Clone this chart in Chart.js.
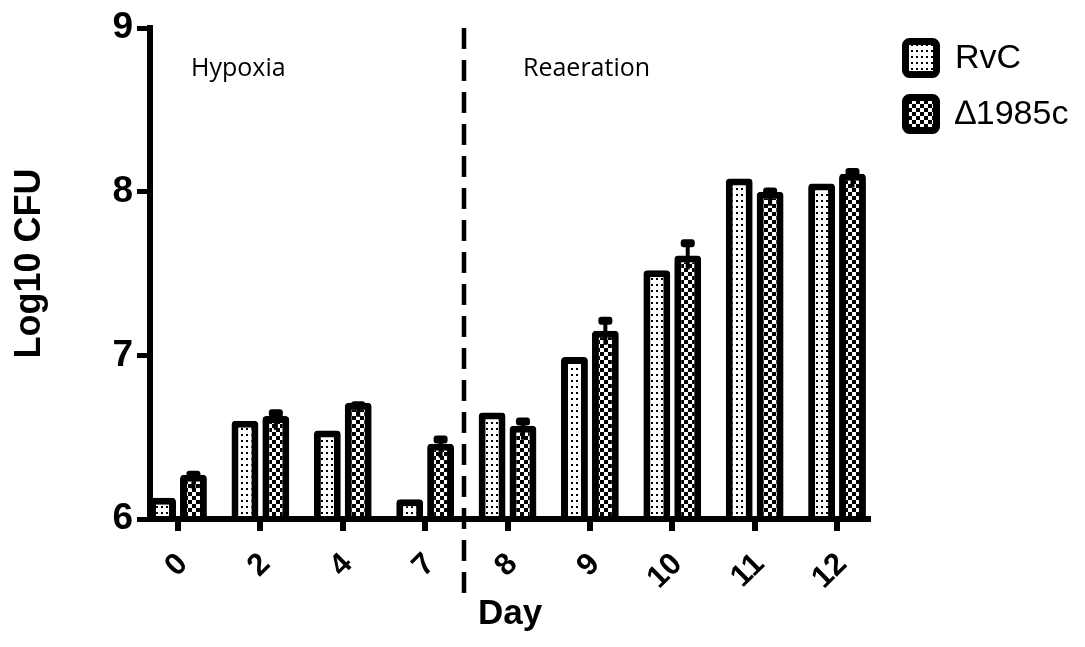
<!DOCTYPE html>
<html>
<head>
<meta charset="utf-8">
<script src="https://cdn.jsdelivr.net/npm/chart.js@4"></script>
<style>
  html, body { margin: 0; padding: 0; background: #fff; }
</style>
</head>
<body>
<canvas id="cfu" width="1085" height="647"></canvas>
<script>
// Log10 CFU per day, hypoxia then reaeration
const days = ['0', '2', '4', '7', '8', '9', '10', '11', '12'];
const rvc = [6.13, 6.60, 6.54, 6.12, 6.65, 6.99, 7.52, 8.08, 8.05];
const rvcErr = [0, 0, 0, 0, 0, 0, 0, 0, 0];
const mutant = [6.27, 6.63, 6.71, 6.46, 6.57, 7.15, 7.61, 8.00, 8.11];
const mutantErr = [0.025, 0.04, 0.01, 0.05, 0.05, 0.085, 0.10, 0.025, 0.035];
const yTicks = [6, 7, 8, 9];
const switchDay = 3.47; // between day 7 and day 8

const FONT = "'Liberation Sans', Arial, sans-serif";
const canvas = document.getElementById('cfu');
const ctx = canvas.getContext('2d');

function tile(w, h, paint) {
  const c = document.createElement('canvas');
  c.width = w; c.height = h;
  const g = c.getContext('2d');
  g.fillStyle = '#fff';
  g.fillRect(0, 0, w, h);
  g.fillStyle = '#000';
  paint(g);
  return ctx.createPattern(c, 'repeat');
}
const dotted = tile(5, 6, g => g.fillRect(1, 2, 2, 2));
const checker = tile(8, 8, g => { g.fillRect(0, 0, 4, 4); g.fillRect(4, 4, 4, 4); });

const points = vals => vals.map((v, i) => ({ x: i, y: v }));

const barStyle = {
  borderColor: '#000',
  borderWidth: 7,
  borderRadius: 4,
  base: 6,
  barPercentage: 0.87,
  categoryPercentage: 0.75
};

// error bars (upper half only) on top of each bar
const errorBars = {
  id: 'errorBars',
  afterDatasetsDraw(chart) {
    const y = chart.scales.y;
    const g = chart.ctx;
    g.save();
    g.fillStyle = '#000';
    g.strokeStyle = '#000';
    chart.data.datasets.forEach((ds, i) => {
      const meta = chart.getDatasetMeta(i);
      ds.errors.forEach((e, j) => {
        if (!e) return;
        const v = ds.data[j].y;
        const x = meta.data[j].x;
        const top = y.getPixelForValue(v + e);
        const bot = y.getPixelForValue(v);
        g.lineWidth = 4;
        g.beginPath();
        g.moveTo(x, bot + 14);
        g.lineTo(x, top + 3);
        g.stroke();
        g.beginPath();
        g.roundRect(x - 7, top, 14, 8, 3);
        g.fill();
      });
    });
    g.restore();
  }
};

// x tick marks, dashed divider, phase captions and legend
const decorations = {
  id: 'decorations',
  afterDatasetsDraw(chart) {
    const g = chart.ctx;
    const xs = chart.scales.x;
    const area = chart.chartArea;
    g.save();
    g.fillStyle = '#000';
    days.forEach((d, i) => {
      const tx = Math.round(xs.getPixelForValue(i));
      g.fillRect(tx - 3, area.bottom, 6, 12);
    });

    const dx = Math.round(xs.getPixelForValue(switchDay));
    g.strokeStyle = '#000';
    g.lineWidth = 4.5;
    g.setLineDash([21, 11]);
    g.beginPath();
    g.moveTo(dx, area.top);
    g.lineTo(dx, 597);
    g.stroke();
    g.setLineDash([]);

    g.font = "25px 'Open Sans', sans-serif";
    g.textBaseline = 'middle';
    g.textAlign = 'left';
    g.fillText('Hypoxia', 191, 69);
    g.fillText('Reaeration', 523, 69);

    g.font = '34px ' + FONT;
    chart.data.datasets.forEach((ds, i) => {
      const top = 38 + i * 56;
      g.fillStyle = ds.backgroundColor;
      g.beginPath();
      g.roundRect(905.5, top + 3.5, 31, 33, 4);
      g.fill();
      g.lineWidth = 7;
      g.strokeStyle = '#000';
      g.stroke();
      g.fillStyle = '#000';
      g.fillText(ds.label, 955, top + 21);
    });
    g.restore();
  }
};

new Chart(ctx, {
  type: 'bar',
  data: {
    datasets: [
      Object.assign({ label: 'RvC', data: points(rvc), errors: rvcErr, backgroundColor: dotted }, barStyle),
      Object.assign({ label: '\u22061985c', data: points(mutant), errors: mutantErr, backgroundColor: checker }, barStyle)
    ]
  },
  options: {
    responsive: false,
    animation: false,
    devicePixelRatio: 1,
    layout: { padding: { top: 28, right: 215, left: 0, bottom: 0 } },
    plugins: { legend: { display: false }, tooltip: { enabled: false } },
    scales: {
      x: {
        type: 'linear',
        offset: false,
        min: -0.34,
        max: 8.4,
        afterFit: s => { s.height = 128; },
        afterBuildTicks: s => { s.ticks = days.map((d, i) => ({ value: i })); },
        grid: { display: false, offset: false, drawTicks: true, tickLength: 16 },
        border: { display: true, color: '#000', width: 6, z: 1 },
        ticks: {
          callback: v => days[v],
          minRotation: 45,
          maxRotation: 45,
          padding: 11,
          labelOffset: 5,
          color: '#000',
          font: { family: FONT, size: 31, weight: 'bold' }
        },
        title: {
          display: true,
          text: 'Day',
          color: '#000',
          padding: { top: 0, bottom: 12 },
          font: { family: FONT, size: 35, weight: 'bold' }
        }
      },
      y: {
        min: yTicks[0],
        max: yTicks[yTicks.length - 1],
        afterFit: s => { s.width = 150; },
        afterBuildTicks: s => { s.ticks = yTicks.map(v => ({ value: v })); },
        grid: { display: true, drawOnChartArea: false, drawTicks: true, tickLength: 13, tickWidth: 5, tickColor: '#000' },
        border: { display: true, color: '#000', width: 6, z: 1 },
        ticks: {
          padding: 4,
          color: '#000',
          font: { family: FONT, size: 37, weight: 'bold' }
        },
        title: {
          display: true,
          text: '  Log10 CFU',
          color: '#000',
          padding: { top: 8, bottom: 0 },
          font: { family: FONT, size: 36, weight: 'bold' }
        }
      }
    }
  },
  plugins: [errorBars, decorations]
});
</script>
</body>
</html>
